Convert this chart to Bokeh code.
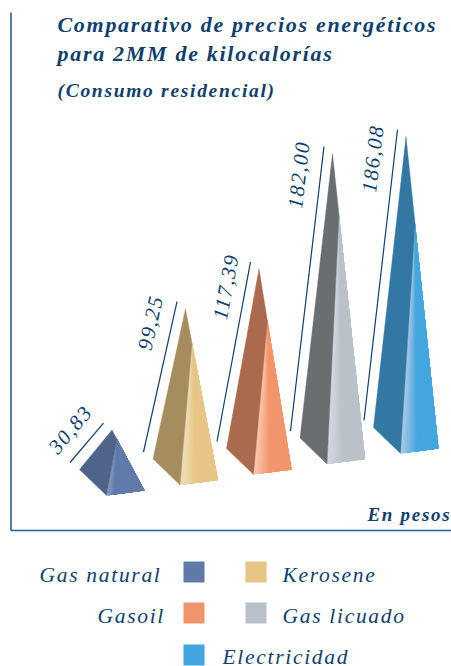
import math

from bokeh.core.properties import value
from bokeh.embed import file_html
from bokeh.models import InlineStyleSheet, Range1d
from bokeh.plotting import figure
from bokeh.resources import INLINE

# Prices in pesos for 2MM kilocalories, residential use
fuels = ["Gas natural", "Kerosene", "Gasoil", "Gas licuado", "Electricidad"]
prices = [30.83, 99.25, 117.39, 182.00, 186.08]
price_labels = ["30,83", "99,25", "117,39", "182,00", "186,08"]

title_lines = ["Comparativo de precios energéticos", "para 2MM de kilocalorías"]
subtitle = "(Consumo residencial)"
unit_note = "En pesos"

# Face colours: shaded side, lit side, highlight along the ridge
shade_colors = ["#4f6489", "#a68d5f", "#ab6a4e", "#6a6e71", "#3378a4"]
lit_colors = ["#5f79a8", "#e6c485", "#f2946b", "#b7c1c7", "#42a5de"]
glow_colors = ["#8c9ec6", "#f1dfb8", "#fbcbb0", "#d3d9e3", "#aecae7"]
ridge_starts = [0.15, 0.20, 0.26, 0.20, 0.28]

INK = "#0f3f6e"
RULE = "#2d6090"
SERIF = "Liberation Serif"
PX_PER_PESO = 1.62
TRACKING = 1.7

p = figure(width=451, height=666, output_backend="svg", toolbar_location=None,
           x_range=Range1d(0, 451), y_range=Range1d(666, 0),
           min_border=0, outline_line_color=None)
p.axis.visible = False
p.grid.visible = False
# Open tracking on every text; all texts are placed from their left end because of it
p.stylesheets = [InlineStyleSheet(css=":host { letter-spacing: %spx; }" % TRACKING)]


def rgb(c):
    return [int(c[i:i + 2], 16) for i in (1, 3, 5)]


def mix(a, b, t):
    ca, cb = rgb(a), rgb(b)
    return "#%02x%02x%02x" % tuple(round(x + (y - x) * t) for x, y in zip(ca, cb))


def lerp(a, b, t):
    return (a[0] + (b[0] - a[0]) * t, a[1] + (b[1] - a[1]) * t)


# Frame on the left and bottom
p.line([10.5, 10.5, 451], [12, 530, 530], line_color=RULE, line_width=1.6)

for i, price in enumerate(prices):
    left = (79 + 73.5 * i, 469 - 10.5 * i)
    front = (left[0] + 27, left[1] + 26)
    right = (left[0] + 65, left[1] + 21)
    apex = (left[0] + 32.5, (left[1] + right[1]) / 2 - PX_PER_PESO * price)
    ridge_top = lerp(apex, right, ridge_starts[i])

    # Lit face: overlapping wedges, each narrower than the last, shade it across its width
    steps = 24
    reach = 0.22 if i == 0 else 0.45
    for s in range(steps):
        t0 = s / steps * reach
        color = mix(glow_colors[i], lit_colors[i], (s + 0.5) / steps)
        a = lerp(front, right, t0)
        p.patch([ridge_top[0], a[0], right[0]], [ridge_top[1], a[1], right[1]],
                fill_color=color, line_color=None)

    # Shaded face
    p.patch([apex[0], ridge_top[0], front[0], left[0]],
            [apex[1], ridge_top[1], front[1], left[1]],
            fill_color=shade_colors[i], line_color=shade_colors[i], line_width=0.4)

    # Value rule running parallel to the pyramid's left edge
    r0 = (left[0] - 9.5, left[1] - 7)
    r1 = (apex[0] - 8.5, apex[1] - 7)
    p.line([r0[0], r1[0]], [r0[1], r1[1]], line_color=INK, line_width=1.2)

label_x = [70, 150, 225.5, 298.5, 372.5]
label_y = [429, 322, 286, 174, 158]
label_deg = [50, 77.6, 79.5, 83.4, 83.4]
for x, y, deg, text in zip(label_x, label_y, label_deg, price_labels):
    # Centred text drifts along its direction by half the added tracking
    drift = len(text) * TRACKING / 2
    rad = math.radians(deg)
    p.text([x - drift * math.cos(rad)], [y + drift * math.sin(rad)], text=[text], angle=deg, angle_units="deg",
           text_font=value(SERIF), text_font_style="italic", text_font_size="21px",
           text_color=INK, text_align="center", text_baseline="middle")

# Heading
for y, text in zip([24, 53], title_lines):
    p.text([57], [y], text=[text], text_font=value(SERIF), text_font_style="bold italic",
           text_font_size="22px", text_color=INK, text_baseline="alphabetic")
p.text([57], [90], text=[subtitle], text_font=value(SERIF), text_font_style="bold italic",
       text_font_size="19.5px", text_color=INK, text_baseline="alphabetic")
p.text([367], [514], text=[unit_note], text_font=value(SERIF), text_font_style="bold italic",
       text_font_size="19px", text_color=INK, text_baseline="alphabetic")

# Legend
swatch_x = [183, 245, 183, 245, 183]
swatch_y = [561, 561, 602, 602, 644]
text_x = [39, 282, 97, 282, 222]
text_y = [574, 574, 615, 615, 656]
for i, name in enumerate(fuels):
    p.quad(left=[swatch_x[i]], right=[swatch_x[i] + 21], top=[swatch_y[i]], bottom=[swatch_y[i] + 21],
           fill_color=lit_colors[i], line_color=None)
    p.text([text_x[i]], [text_y[i]], text=[name], text_font=value(SERIF), text_font_style="italic",
           text_font_size="21.5px", text_color=INK, text_baseline="alphabetic")

open("out.html", "w").write(file_html(p, INLINE))
